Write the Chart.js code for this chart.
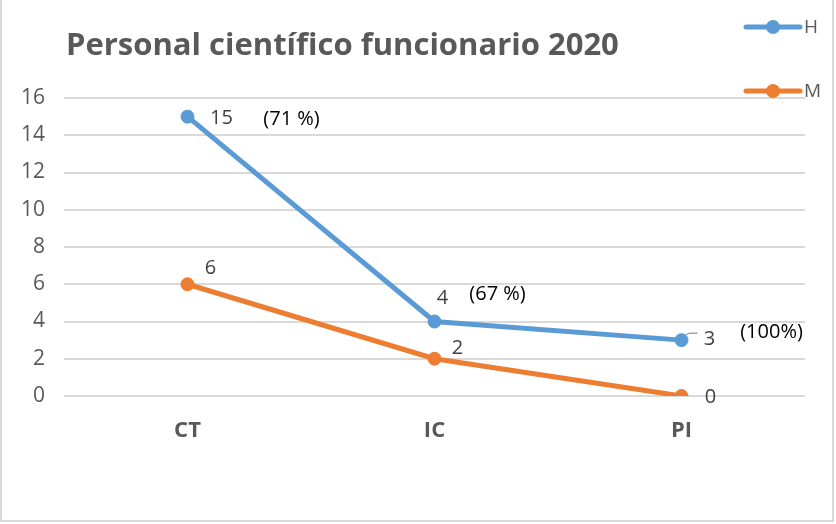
<!DOCTYPE html>
<html>
<head>
<meta charset="utf-8">
<script src="https://cdn.jsdelivr.net/npm/chart.js@4"></script>
<style>
  html, body { margin: 0; padding: 0; background: #fff; }
  canvas { display: block; }
</style>
</head>
<body>
<canvas id="chart" width="836" height="524"></canvas>
<script>
const categories = ['CT', 'IC', 'PI'];
const hombres = [15, 4, 3];
const mujeres = [6, 2, 0];
const shareLabels = ['(71 %)', '(67 %)', '(100%)'];
const yTicks = [0, 2, 4, 6, 8, 10, 12, 14, 16];
const chartTitle = 'Personal científico funcionario 2020';

const BLUE = '#5b9bd5';
const ORANGE = '#ed7d31';
const GRAY = '#595959';
const FONT = '"Open Sans", sans-serif';

// offsets of the value labels from their point (dx, dy)
const labelOffsets = [
    [[34, 2], [8, -23], [28, -1]],
    [[23, -16], [23, -10], [29, 1]]
];
const shareOffsets = [[104, 3], [63, -27], [90, -8]];

const extras = {
    id: 'extras',
    afterDraw(chart) {
        const ctx = chart.ctx;
        ctx.save();

        // frame
        ctx.strokeStyle = '#d9d9d9';
        ctx.lineWidth = 2;
        ctx.strokeRect(1, -2, 832, 523);

        // title
        ctx.fillStyle = GRAY;
        ctx.font = 'bold 31px ' + FONT;
        ctx.textAlign = 'left';
        ctx.textBaseline = 'alphabetic';
        ctx.fillText(chartTitle, 66, 55);

        // value labels
        ctx.textBaseline = 'middle';
        ctx.font = '20px ' + FONT;
        ctx.fillStyle = '#404040';
        ctx.textAlign = 'center';
        chart.data.datasets.forEach((ds, i) => {
            chart.getDatasetMeta(i).data.forEach((pt, j) => {
                const [dx, dy] = labelOffsets[i][j];
                ctx.fillText(String(ds.data[j]), pt.x + dx, pt.y + dy);
            });
        });

        // small leader line at PI blue label
        const piPt = chart.getDatasetMeta(0).data[2];
        ctx.strokeStyle = '#a6a6a6';
        ctx.lineWidth = 1.5;
        ctx.beginPath();
        ctx.moveTo(piPt.x + 4, piPt.y - 5);
        ctx.lineTo(piPt.x + 8, piPt.y - 7);
        ctx.lineTo(piPt.x + 16, piPt.y - 7);
        ctx.stroke();

        // share labels
        ctx.fillStyle = '#000';
        ctx.font = '20px ' + FONT;
        chart.getDatasetMeta(0).data.forEach((pt, j) => {
            const [dx, dy] = shareOffsets[j];
            ctx.fillText(shareLabels[j], pt.x + dx, pt.y + dy);
        });

        // legend
        ctx.textAlign = 'left';
        ctx.font = '19px ' + FONT;
        chart.data.datasets.forEach((ds, i) => {
            const y = 27 + i * 64;
            ctx.strokeStyle = ds.borderColor;
            ctx.lineWidth = 5;
            ctx.lineCap = 'round';
            ctx.beginPath();
            ctx.moveTo(746, y);
            ctx.lineTo(800, y);
            ctx.stroke();
            ctx.fillStyle = ds.borderColor;
            ctx.beginPath();
            ctx.arc(773, y, 7, 0, Math.PI * 2);
            ctx.fill();
            ctx.fillStyle = GRAY;
            ctx.fillText(ds.label, 804, y + 1);
        });

        ctx.restore();
    }
};

new Chart(document.getElementById('chart'), {
    type: 'line',
    data: {
        labels: categories,
        datasets: [
            {
                label: 'H',
                data: hombres,
                borderColor: BLUE,
                backgroundColor: BLUE,
                borderWidth: 5,
                pointRadius: 6.5,
                pointBorderWidth: 1,
                pointHoverRadius: 6.5,
                tension: 0
            },
            {
                label: 'M',
                data: mujeres,
                borderColor: ORANGE,
                backgroundColor: ORANGE,
                borderWidth: 5,
                pointRadius: 6.5,
                pointBorderWidth: 1,
                pointHoverRadius: 6.5,
                tension: 0
            }
        ]
    },
    options: {
        responsive: false,
        animation: false,
        layout: { padding: { left: 0, right: 31, top: 98, bottom: 0 } },
        plugins: {
            legend: { display: false },
            tooltip: { enabled: false },
            title: { display: false }
        },
        scales: {
            x: {
                offset: true,
                grid: { display: false, drawTicks: false },
                border: { display: false },
                ticks: {
                    color: GRAY,
                    font: { family: FONT, size: 22, weight: 'bold' },
                    padding: 22
                },
                afterFit(scale) { scale.height = 128; }
            },
            y: {
                min: 0,
                max: 16,
                afterBuildTicks(scale) {
                    scale.ticks = yTicks.map(v => ({ value: v }));
                },
                grid: { color: '#d9d9d9', lineWidth: 2, drawTicks: false },
                border: { display: false },
                ticks: {
                    color: GRAY,
                    font: { family: FONT, size: 21 },
                    padding: 19
                },
                afterFit(scale) { scale.width = 64; }
            }
        }
    },
    plugins: [extras]
});
</script>
</body>
</html>
